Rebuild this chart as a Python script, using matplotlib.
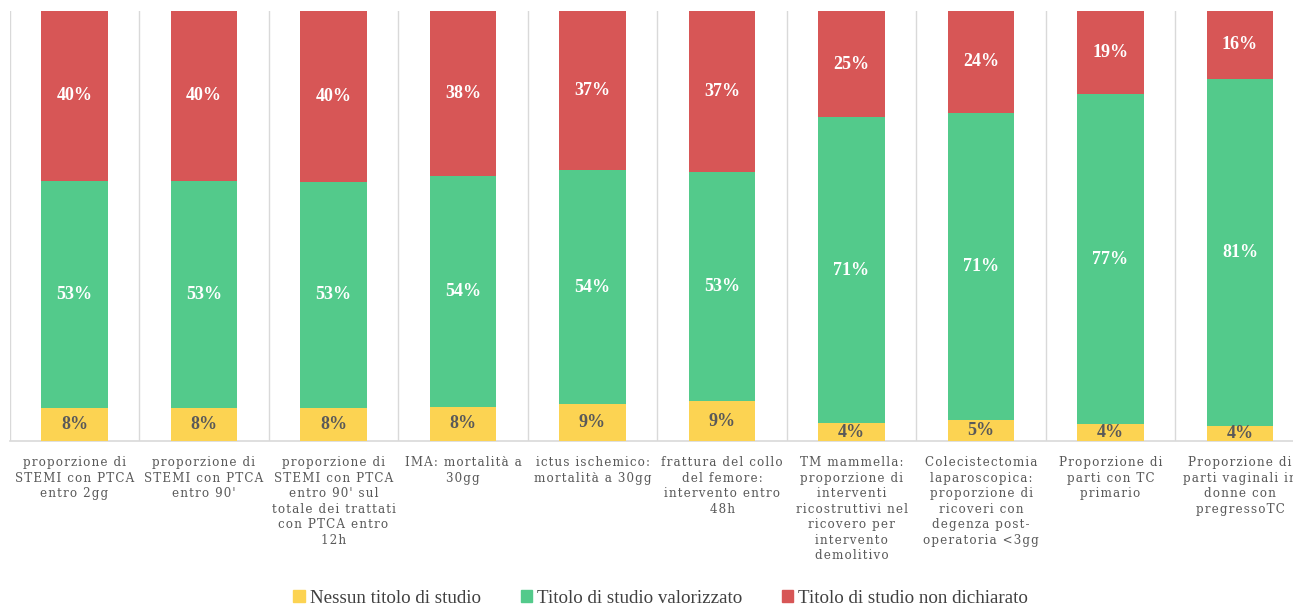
import numpy as np
import matplotlib
matplotlib.use("Agg")
import matplotlib.pyplot as plt
from matplotlib.patches import Patch

categories = [
    "proporzione di\nSTEMI con PTCA\nentro 2gg",
    "proporzione di\nSTEMI con PTCA\nentro 90'",
    "proporzione di\nSTEMI con PTCA\nentro 90' sul\ntotale dei trattati\ncon PTCA entro\n12h",
    "IMA: mortalità a\n30gg",
    "ictus ischemico:\nmortalità a 30gg",
    "frattura del collo\ndel femore:\nintervento entro\n48h",
    "TM mammella:\nproporzione di\ninterventi\nricostruttivi nel\nricovero per\nintervento\ndemolitivo",
    "Colecistectomia\nlaparoscopica:\nproporzione di\nricoveri con\ndegenza post-\noperatoria <3gg",
    "Proporzione di\nparti con TC\nprimario",
    "Proporzione di\nparti vaginali in\ndonne con\npregressoTC",
]

nessun = [7.7, 7.7, 7.7, 8.0, 8.6, 9.2, 4.1, 5.0, 3.9, 3.6]
valorizzato = [52.8, 52.8, 52.6, 53.6, 54.4, 53.4, 71.2, 71.3, 76.8, 80.7]
non_dichiarato = [39.6, 39.6, 39.7, 38.4, 37.0, 37.4, 24.7, 23.7, 19.3, 15.8]

series_names = ["Nessun titolo di studio", "Titolo di studio valorizzato",
                "Titolo di studio non dichiarato"]
colors = ["#fcd352", "#53ca8b", "#d75656"]
label_colors = ["#595959", "white", "white"]

serif = "Liberation Serif"


def spaced(txt):
    # the original labels have wide letter spacing
    return "\n".join("\u200a".join(line) for line in txt.split("\n"))


fig = plt.figure(figsize=(12.93, 6.06), dpi=100)
ax = fig.add_axes([9.75 / 1293, 165 / 606, 1295 / 1293, 430 / 606])

x = np.arange(len(categories))
bottom = np.zeros(len(categories))
for vals, name, col, lcol in zip([nessun, valorizzato, non_dichiarato],
                                 series_names, colors, label_colors):
    vals = np.array(vals)
    ax.bar(x, vals, 0.51, bottom=bottom, color=col, label=name, zorder=3)
    for xi, b, v in zip(x, bottom, vals):
        ax.text(xi, b + v / 2, f"{v:.0f}%", ha="center", va="center",
                color=lcol, fontsize=13, fontweight="bold", family=serif, zorder=4)
    bottom += vals

# category separators
for b in np.arange(-0.5, len(categories) + 0.5, 1):
    ax.axvline(b, color="#d9d9d9", lw=1, zorder=1)

ax.set_xlim(-0.5, len(categories) - 0.5)
ax.set_ylim(0, 100)
ax.set_yticks([])
ax.set_xticks(x)
ax.set_xticklabels([spaced(c) for c in categories], family="DejaVu Serif",
                   fontsize=8.6, color="#595959", linespacing=1.25)
ax.tick_params(axis="x", length=0, pad=11)
for s in ["top", "left", "right"]:
    ax.spines[s].set_visible(False)
ax.spines["bottom"].set_color("#d9d9d9")
ax.spines["bottom"].set_linewidth(1.2)

handles = [Patch(color=c, label=n) for c, n in zip(colors, series_names)]
fig.legend(handles=handles, loc="center", bbox_to_anchor=(0.511, 0.013),
           ncol=3, frameon=False, prop={"family": serif, "size": 13.7},
           handlelength=0.6, handleheight=0.6, handletextpad=0.25,
           columnspacing=2.1, labelcolor="#404040")

fig.savefig("out.png", dpi=100)
